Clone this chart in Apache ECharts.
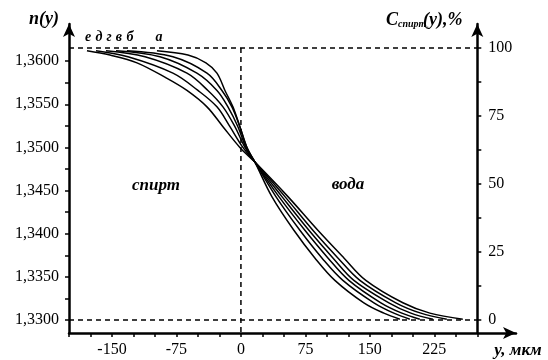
<!DOCTYPE html>
<html>
<head>
<meta charset="utf-8">
<script src="https://cdn.jsdelivr.net/npm/echarts@6/dist/echarts.min.js"></script>
<style>
  html, body { margin: 0; padding: 0; background: #fff; }
  #chart { width: 548px; height: 360px; }
</style>
</head>
<body>
<div id="chart"></div>
<script>
// refractive index profiles n(y) across the alcohol/water boundary, curves а..е
const curveA = [[-97.7, 1.3612], [-61.6, 1.3607], [-40.7, 1.3598], [-27.9, 1.3586], [-18.6, 1.3566], [-9.3, 1.3547], [-1.2, 1.3524], [7.0, 1.3500], [16.3, 1.3483], [36.0, 1.3443], [61.6, 1.3404], [86.0, 1.3372], [109.3, 1.3346], [143.0, 1.3320], [166.3, 1.3308], [184.9, 1.3301]];
const curveB = [[-132.6, 1.3612], [-79.1, 1.3605], [-39.5, 1.3586], [-22.1, 1.3566], [-10.5, 1.3547], [-1.2, 1.3524], [7.0, 1.3500], [16.3, 1.3483], [40.7, 1.3443], [68.6, 1.3404], [94.2, 1.3372], [118.6, 1.3346], [154.7, 1.3320], [177.9, 1.3308], [196.5, 1.3301]];
const curveV = [[-145.3, 1.3612], [-94.2, 1.3605], [-51.2, 1.3586], [-27.9, 1.3566], [-15.1, 1.3547], [-3.5, 1.3524], [5.8, 1.3500], [16.3, 1.3483], [44.2, 1.3443], [74.4, 1.3404], [101.2, 1.3372], [125.6, 1.3346], [162.8, 1.3320], [187.2, 1.3308], [208.1, 1.3301]];
const curveG = [[-157.0, 1.3612], [-111.6, 1.3605], [-62.8, 1.3586], [-38.4, 1.3566], [-20.9, 1.3547], [-7.0, 1.3524], [4.7, 1.3500], [16.3, 1.3483], [47.7, 1.3443], [79.1, 1.3404], [107.0, 1.3372], [131.4, 1.3346], [172.1, 1.3320], [197.7, 1.3308], [223.3, 1.3301]];
const curveD = [[-168.6, 1.3612], [-131.4, 1.3605], [-79.1, 1.3586], [-50.0, 1.3566], [-27.9, 1.3547], [-12.8, 1.3524], [2.3, 1.3500], [16.3, 1.3483], [51.2, 1.3443], [83.7, 1.3404], [112.8, 1.3372], [138.4, 1.3346], [180.2, 1.3320], [209.3, 1.3308], [239.5, 1.3301]];
const curveE = [[-179.1, 1.3612], [-152.3, 1.3607], [-120.9, 1.3598], [-86.0, 1.3580], [-62.8, 1.3566], [-39.5, 1.3547], [-20.9, 1.3524], [-1.2, 1.3500], [16.3, 1.3483], [54.7, 1.3443], [89.5, 1.3404], [119.8, 1.3372], [145.3, 1.3346], [188.4, 1.3320], [219.8, 1.3308], [258.1, 1.3301]];
const curves = [curveA, curveB, curveV, curveG, curveD, curveE];
const curveNames = ["а", "б", "в", "г", "д", "е"];

// axis ticks and labels
const yTicks = [-200, -175, -150, -125, -100, -75, -50, -25, 0, 25, 50, 75, 100, 125, 150, 175, 200, 225, 250, 275];
const yLabels = [-150, -75, 0, 75, 150, 225];
const nTicks = [1.33, 1.3325, 1.335, 1.3375, 1.34, 1.3425, 1.345, 1.3475, 1.35, 1.3525, 1.355, 1.3575, 1.36];
const nLabels = [1.33, 1.335, 1.34, 1.345, 1.35, 1.355, 1.36];
const cTicks = [0, 12.5, 25, 37.5, 50, 62.5, 75, 87.5, 100];
const cLabels = [0, 25, 50, 75, 100];

// dashed guides: 0 % and 100 % levels, boundary at y = 0
const guideLevels = [0, 100];
const guideY = 0;
const yEdge = 275;

const X_MIN = -200, X_MAX = 320;
const C_MIN = -4.78, C_MAX = 108.82;

const FONT = "'Liberation Serif', 'Times New Roman', serif";
const chart = echarts.init(document.getElementById("chart"), null, { renderer: "canvas" });

const axisLine = { lineStyle: { color: "#000", width: 2.5 } };
const tickStyle = { lineStyle: { color: "#000", width: 1.5 } };
const labelStyle = { color: "#000", fontFamily: FONT, fontSize: 16 };

const series = curves.map((data, i) => ({
  name: curveNames[i],
  type: "line",
  data: data,
  xAxisIndex: 0,
  yAxisIndex: 0,
  showSymbol: false,
  symbol: "none",
  smooth: 0.35,
  lineStyle: { color: "#000", width: 1.5 },
  silent: true,
}));

const dashed = { color: "#000", width: 1.5, type: [5, 4] };
guideLevels.forEach((lvl) => {
  series.push({
    type: "line", yAxisIndex: 1, symbol: "none", silent: true,
    data: [[X_MIN, lvl], [yEdge, lvl]],
    lineStyle: dashed,
  });
});
series.push({
  type: "line", yAxisIndex: 1, symbol: "none", silent: true,
  data: [[guideY, 100], [guideY, C_MIN]],
  lineStyle: dashed,
});

const bi = (size) => ({ fontFamily: FONT, fontWeight: "bold", fontStyle: "italic", fontSize: size, fill: "#000" });
const txt = (x, y, text, size, align) => ({
  type: "text", x: x, y: y, silent: true,
  style: Object.assign({ text: text, align: align || "center", verticalAlign: "middle" }, bi(size)),
});

const letterX = [159, 130, 119, 109, 99, 88];

const option = {
  backgroundColor: "#fff",
  animation: false,
  grid: { left: 69, top: 24, width: 447, height: 309, containLabel: false, outerBoundsMode: "none" },
  xAxis: {
    type: "value", min: X_MIN, max: X_MAX,
    axisLine: Object.assign({ onZero: false, symbol: ["none", "arrow"], symbolSize: [9, 13] }, axisLine),
    axisTick: Object.assign({ show: true, length: 4, customValues: yTicks }, tickStyle),
    axisLabel: Object.assign({ margin: 9, customValues: yLabels }, labelStyle),
    splitLine: { show: false },
  },
  yAxis: [
    {
      type: "value", min: 1.3285, max: 1.3643, position: "left",
      axisLine: Object.assign({ show: true, onZero: false, symbol: ["none", "arrow"], symbolSize: [9, 13] }, axisLine),
      axisTick: Object.assign({ show: true, length: 4, customValues: nTicks }, tickStyle),
      axisLabel: Object.assign({ margin: 10, customValues: nLabels, formatter: (v) => v.toFixed(4).replace(".", ",") }, labelStyle),
      splitLine: { show: false },
    },
    {
      type: "value", min: C_MIN, max: C_MAX, position: "right", offset: -38.7,
      axisLine: Object.assign({ show: true, onZero: false, symbol: ["none", "arrow"], symbolSize: [9, 13] }, axisLine),
      axisTick: Object.assign({ show: true, length: 4, customValues: cTicks }, tickStyle),
      axisLabel: Object.assign({ margin: 11, customValues: cLabels }, labelStyle),
      splitLine: { show: false },
    },
  ],
  series: series,
  graphic: [
    txt(44, 19, "n(y)", 18),
    txt(518, 351, "y, мкм", 17),
    txt(156, 186, "спирт", 17),
    txt(348, 185, "вода", 17),
    txt(386, 20, "C", 18, "left"),
    txt(398, 24, "спирт", 10, "left"),
    txt(423, 20, "(y),%", 18, "left"),
  ].concat(curveNames.map((n, i) => txt(letterX[i], 37, n, 14))),
};

chart.setOption(option);
</script>
</body>
</html>
